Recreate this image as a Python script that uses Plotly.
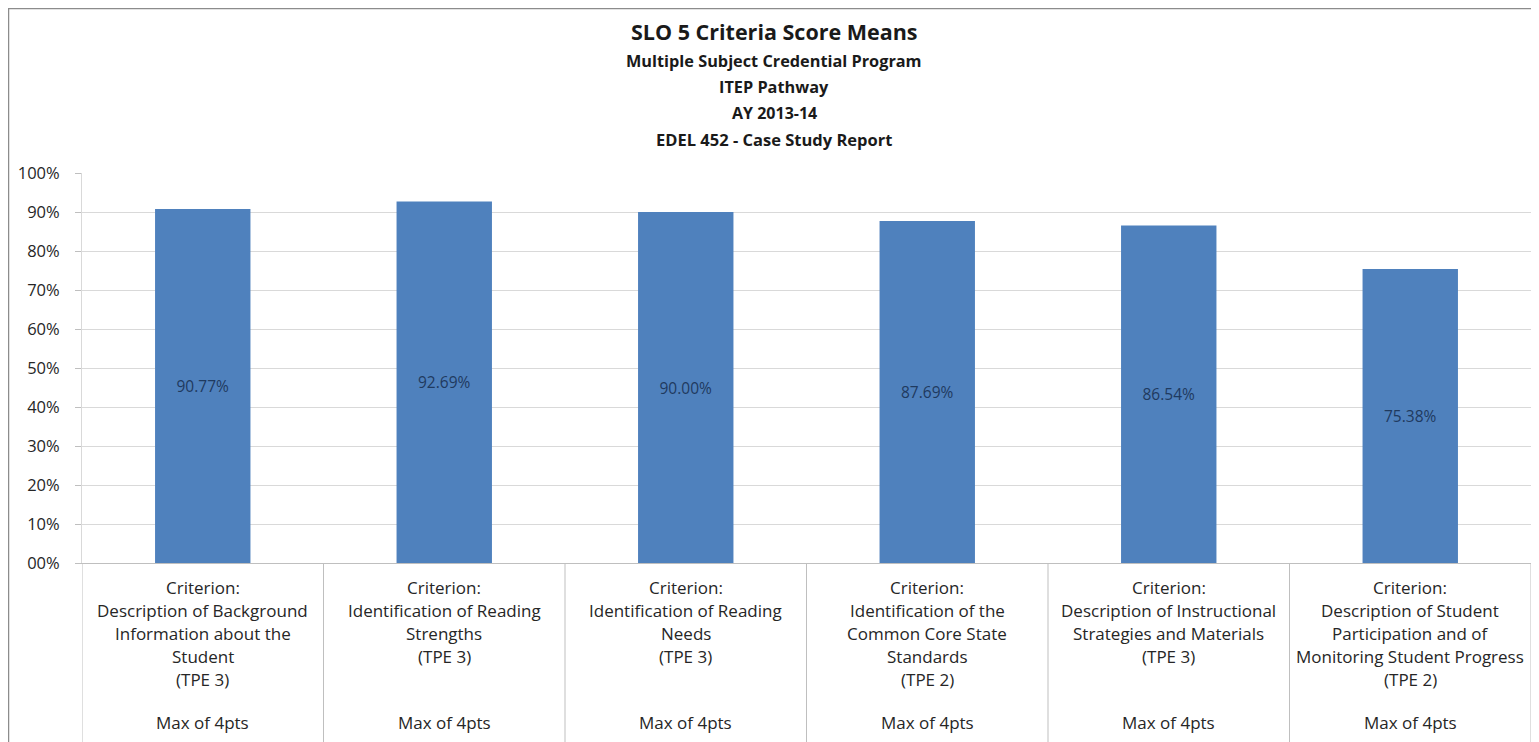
import plotly.graph_objects as go

# ============================================================
# Data
# ============================================================

criteria = [
    ["Criterion:", "Description of Background", "Information about the", "Student", "(TPE 3)"],
    ["Criterion:", "Identification of Reading", "Strengths", "(TPE 3)"],
    ["Criterion:", "Identification of Reading", "Needs", "(TPE 3)"],
    ["Criterion:", "Identification of the", "Common Core State", "Standards", "(TPE 2)"],
    ["Criterion:", "Description of Instructional", "Strategies and Materials", "(TPE 3)"],
    ["Criterion:", "Description of Student", "Participation and of", "Monitoring Student Progress", "(TPE 2)"],
]
max_pts = ["Max of 4pts"] * 6
score_means = [0.9077, 0.9269, 0.9000, 0.8769, 0.8654, 0.7538]

tick_vals = [0, 0.1, 0.2, 0.3, 0.4, 0.5, 0.6, 0.7, 0.8, 0.9, 1.0]
tick_text = ["00%", "10%", "20%", "30%", "40%", "50%", "60%", "70%", "80%", "90%", "100%"]

title_lines = [
    ("SLO 5 Criteria Score Means", 21.5),
    ("Multiple Subject Credential Program", 16.3),
    ("ITEP Pathway", 16.3),
    ("AY 2013-14", 16),
    ("EDEL 452 - Case Study Report", 16.5),
]

# ============================================================
# Layout geometry (page pixels; the page body adds an 8px margin)
# ============================================================

OFF = 8
W, H = 1539 - OFF, 742 - OFF
plot_left, plot_right, plot_top, plot_bottom = 82, 1531, 173, 563
ml, mr = plot_left - OFF, (W + OFF) - plot_right
mt, mb = plot_top - OFF, (H + OFF) - plot_bottom
pw, ph = plot_right - plot_left, plot_bottom - plot_top


def py(page_y):
    # page y pixel -> paper y
    return (plot_bottom - page_y) / ph


def px(page_x):
    return (page_x - plot_left) / pw


FONT = "'Open Sans', sans-serif"
TXT = "#262626"
n = len(score_means)
xs = list(range(n))

fig = go.Figure()

fig.add_trace(go.Bar(
    x=xs, y=score_means,
    marker=dict(color="#4F81BD", line=dict(width=0)),
    text=[f"{v*100:.2f}%" for v in score_means],
    textposition="inside",
    insidetextanchor="middle",
    textfont=dict(family=FONT, size=15.5, color="#1F3A5F"),
    width=0.395,
    showlegend=False,
    hoverinfo="skip",
))

annotations = []

# title block
title_y = [32, 61, 87, 113, 139]
for (txt, sz), yp in zip(title_lines, title_y):
    annotations.append(dict(
        text=f"<b>{txt}</b>", xref="paper", yref="paper",
        x=px(774), y=py(yp),
        xanchor="center", yanchor="middle", showarrow=False,
        font=dict(family=FONT, size=sz, color="#1a1a1a"),
    ))

# category labels (one annotation per line)
line_h = 23
for i, lines in enumerate(criteria):
    for j, ln in enumerate(lines):
        annotations.append(dict(
            text=ln, xref="x", yref="paper", x=i, y=py(587 + j * line_h),
            xanchor="center", yanchor="middle", showarrow=False,
            font=dict(family=FONT, size=17, color=TXT),
        ))
    annotations.append(dict(
        text=max_pts[i], xref="x", yref="paper", x=i, y=py(722),
        xanchor="center", yanchor="middle", showarrow=False,
        font=dict(family=FONT, size=17, color=TXT),
    ))

shapes = []
# table separators
for k in range(n + 1):
    shapes.append(dict(
        type="line", xref="x", yref="paper", x0=k - 0.5, x1=k - 0.5,
        y0=0, y1=py(750),
        line=dict(color="#BFBFBF", width=1),
    ))
# chart border
shapes.append(dict(
    type="rect", xref="paper", yref="paper",
    x0=px(8.5), x1=px(1537),
    y0=py(760), y1=py(8.5),
    line=dict(color="#8C8C8C", width=1.5), fillcolor="rgba(0,0,0,0)",
))

fig.update_layout(
    width=W, height=H,
    margin=dict(l=ml, r=mr, t=mt, b=mb, pad=0),
    paper_bgcolor="white", plot_bgcolor="white",
    font=dict(family=FONT, color=TXT),
    bargap=0.6,
    annotations=annotations,
    shapes=shapes,
    xaxis=dict(
        range=[-0.5, n - 0.5], showticklabels=False, ticks="",
        showgrid=False, zeroline=False, showline=True,
        linecolor="#BFBFBF", linewidth=1, fixedrange=True,
    ),
    yaxis=dict(
        range=[0, 1.0], tickvals=tick_vals, ticktext=tick_text,
        ticks="outside", ticklen=6, tickcolor="#BFBFBF",
        showgrid=True, gridcolor="#D9D9D9", gridwidth=1,
        zeroline=False, showline=True, linecolor="#D9D9D9",
        tickfont=dict(family=FONT, size=16.5, color=TXT),
        ticklabelstandoff=12, fixedrange=True,
    ),
)

fig.write_html("out.html")
